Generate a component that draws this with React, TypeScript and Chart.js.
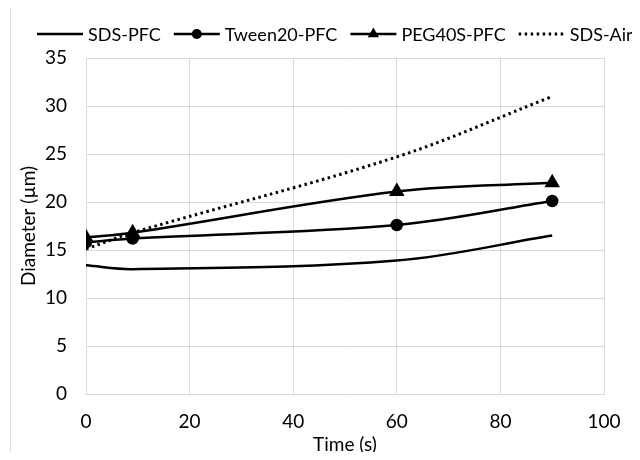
import React, { useEffect, useRef } from 'react';
import { Chart, registerables } from 'chart.js';

Chart.register(...registerables);

// ---- data ----
const times = [0, 9, 60, 90];
const seriesNames = ['SDS-PFC', 'Tween20-PFC', 'PEG40S-PFC', 'SDS-Air'];
const sdsPfc = [13.4, 13.0, 13.9, 16.5];
const tween20Pfc = [15.8, 16.2, 17.6, 20.1];
const peg40sPfc = [16.3, 16.8, 21.1, 22.0];
const sdsAir = [15.1, 16.8, 24.7, 31.0];
const xTicks = [0, 20, 40, 60, 80, 100];
const yTicks = [0, 5, 10, 15, 20, 25, 30, 35];
const xTitle = 'Time (s)';
const yTitle = 'Diameter (\u00B5m)';

const FONT = "Lato, 'Open Sans', sans-serif";
const GRID = '#d9d9d9';

const toPoints = (vals: number[]) => vals.map((v, i) => ({ x: times[i], y: v }));

function drawMarker(ctx: CanvasRenderingContext2D, style: string, x: number, y: number, r: number) {
  if (!r) return;
  ctx.save();
  ctx.setLineDash([]);
  ctx.fillStyle = '#000';
  ctx.beginPath();
  if (style === 'triangle') {
    let rad = 0;
    ctx.moveTo(x + Math.sin(rad) * r, y - Math.cos(rad) * r);
    rad += (2 * Math.PI) / 3;
    ctx.lineTo(x + Math.sin(rad) * r, y - Math.cos(rad) * r);
    rad += (2 * Math.PI) / 3;
    ctx.lineTo(x + Math.sin(rad) * r, y - Math.cos(rad) * r);
    ctx.closePath();
  } else {
    ctx.arc(x, y, r, 0, Math.PI * 2);
  }
  ctx.fill();
  ctx.restore();
}

const legendPlugin = {
  id: 'customLegend',
  afterDraw(chart: any) {
    const ctx: CanvasRenderingContext2D = chart.ctx;
    ctx.save();
    // outer chart border
    ctx.strokeStyle = GRID;
    ctx.lineWidth = 1;
    ctx.strokeRect(10.5, 6.5, 700, 452);

    let x = 37;
    const yLine = 34;
    const lineLen = 46;
    ctx.font = `18px ${FONT}`;
    ctx.textBaseline = 'middle';
    ctx.textAlign = 'left';
    chart.data.datasets.forEach((ds: any) => {
      ctx.save();
      ctx.strokeStyle = '#000';
      ctx.lineWidth = ds.borderWidth;
      ctx.setLineDash(ds.borderDash || []);
      ctx.beginPath();
      ctx.moveTo(x, yLine);
      ctx.lineTo(x + lineLen, yLine);
      ctx.stroke();
      ctx.restore();
      drawMarker(ctx, ds.pointStyle, x + lineLen / 2, yLine, ds.pointRadius);
      ctx.fillStyle = '#000';
      ctx.fillText(ds.label, x + lineLen + 5, 35);
      x += lineLen + 5 + ctx.measureText(ds.label).width + 13;
    });
    ctx.restore();
  },
};

export default function App() {
  const ref = useRef<HTMLCanvasElement | null>(null);

  useEffect(() => {
    if (!ref.current) return;
    const base = { borderColor: '#000', backgroundColor: '#000', borderWidth: 2.5, tension: 0.35, fill: false };
    const chart = new Chart(ref.current, {
      type: 'line',
      data: {
        datasets: [
          { ...base, label: seriesNames[0], data: toPoints(sdsPfc), pointRadius: 0, pointStyle: 'circle' },
          { ...base, label: seriesNames[1], data: toPoints(tween20Pfc), pointRadius: 5, pointStyle: 'circle' },
          { ...base, label: seriesNames[2], data: toPoints(peg40sPfc), pointRadius: 6.5, pointStyle: 'triangle' },
          { ...base, label: seriesNames[3], data: toPoints(sdsAir), pointRadius: 0, pointStyle: 'circle', borderWidth: 3, borderDash: [2.5, 3.5] },
        ],
      },
      options: {
        responsive: false,
        animation: false,
        layout: { padding: { top: 58, right: 36, left: 0, bottom: 0 } },
        plugins: { legend: { display: false }, tooltip: { enabled: false } },
        scales: {
          x: {
            type: 'linear',
            min: 0,
            max: 100,
            afterFit: (s: any) => { s.height = 66; },
            afterBuildTicks: (s: any) => { s.ticks = xTicks.map((v) => ({ value: v })); },
            grid: { color: GRID, lineWidth: 1, drawTicks: false },
            border: { color: GRID },
            ticks: { color: '#000', padding: 16, font: { family: FONT, size: 19 } },
            title: { display: true, text: xTitle, color: '#000', padding: { top: 0, bottom: 4 }, font: { family: FONT, size: 19 } },
          },
          y: {
            type: 'linear',
            min: 0,
            max: 35,
            afterFit: (s: any) => { s.width = 86; },
            afterBuildTicks: (s: any) => { s.ticks = yTicks.map((v) => ({ value: v })); },
            grid: { color: GRID, lineWidth: 1, drawTicks: false },
            border: { color: GRID },
            ticks: { color: '#000', padding: 19, font: { family: FONT, size: 19 } },
            title: { display: true, text: yTitle, color: '#000', padding: { top: 17, bottom: 0 }, font: { family: FONT, size: 19 } },
          },
        },
      },
      plugins: [legendPlugin],
    });
    return () => chart.destroy();
  }, []);

  return (
    <div style={{ margin: '-8px', width: 640, height: 460 }}>
      <canvas ref={ref} width={640} height={460} style={{ display: 'block' }} />
    </div>
  );
}
